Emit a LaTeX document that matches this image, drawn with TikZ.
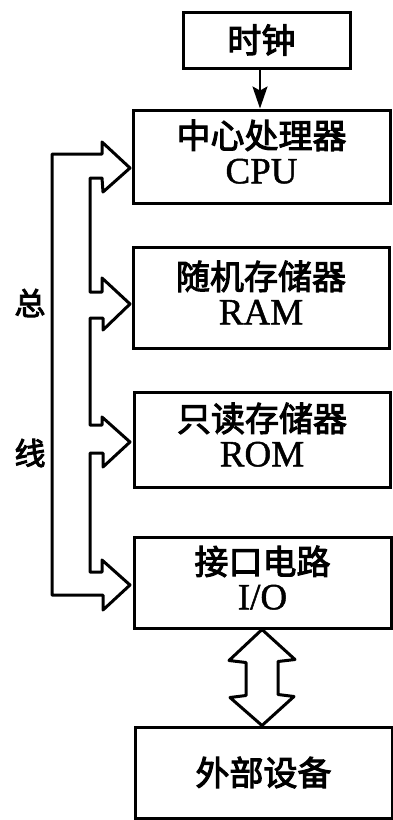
\documentclass[tikz,border=0pt]{standalone}
\usepackage{fontspec}
\setmainfont{Liberation Serif}[FakeBold=1.2]
\newfontfamily\cjk{Noto Sans CJK SC}[FakeBold=3]
\usetikzlibrary{arrows.meta}
\begin{document}
\begin{tikzpicture}[x=1pt,y=-1pt,
  box/.style={draw,line width=3pt,inner sep=0pt,align=center,
    font=\fontsize{37}{40}\selectfont},
  zh/.style={font=\fontsize{31}{34}\selectfont\cjk,inner sep=0pt},
  bus/.style={draw,line width=3pt,line join=round},
  clk/.style={line width=2.2pt,-{Stealth[length=22pt,width=15pt,inset=4pt]}}]
\useasboundingbox (0,0) rectangle (393,820);

\node[box,minimum width=167pt,minimum height=56pt] (clock) at (266.5,40) {{\cjk\fontsize{34}{36}\selectfont 时钟}\hspace*{10pt}};
\node[box,minimum width=257pt,minimum height=93pt] (cpu) at (261.5,156.5) {{\cjk\fontsize{34}{36}\selectfont 中心处理器}\\[-5pt]CPU\\[-30pt]\mbox{}};
\node[box,minimum width=256pt,minimum height=101pt] (ram) at (261,297.5) {{\cjk\fontsize{34}{36}\selectfont 随机存储器}\\[-5pt]RAM\\[-30pt]\mbox{}};
\node[box,minimum width=256pt,minimum height=95pt] (rom) at (262,439.5) {{\cjk\fontsize{34}{36}\selectfont 只读存储器}\\[-5pt]ROM\\[-30pt]\mbox{}};
\node[box,minimum width=257pt,minimum height=91pt] (io) at (262.5,582.5) {{\cjk\fontsize{34}{36}\selectfont 接口电路}\\[-5pt]I/O\\[-30pt]\mbox{}};
\node[box,minimum width=257pt,minimum height=91pt] (ext) at (263.5,772.5) {{\cjk\fontsize{34}{36}\selectfont 外部设备}};

\node[zh] (z1) at (30,303) {总};
\node[zh] (z2) at (30,453) {线};

\draw[clk] ([xshift=-6.5pt]clock.south) -- ([xshift=-1.5pt]cpu.north);

% system bus
\path[bus] (103,192) -- (102,178) -- (90,178) -- (90,292) -- (102,292) -- (102,278)
  -- (130,304) -- (103,330) -- (103,318) -- (90,318) -- (90,425) -- (102,425)
  -- (102,417) -- (130,442) -- (103,467) -- (103,453) -- (90,453) -- (90,572)
  -- (102,572) -- (102,560) -- (130,585) -- (103,610) -- (103,595) -- (52,595)
  -- (52,154) -- (102,154) -- (102,142) -- (130,168) -- cycle;

% double arrow between I/O and external devices
\path[bus] (io.south -| 262,0) -- ++(33,30) -- ++(-17,2) -- ++(0,33) -- ++(16,2)
  -- (ext.north -| 262,0) -- ++(-32,-28) -- ++(16,-2) -- ++(0,-33) -- ++(-17,-2) -- cycle;
\end{tikzpicture}
\end{document}
